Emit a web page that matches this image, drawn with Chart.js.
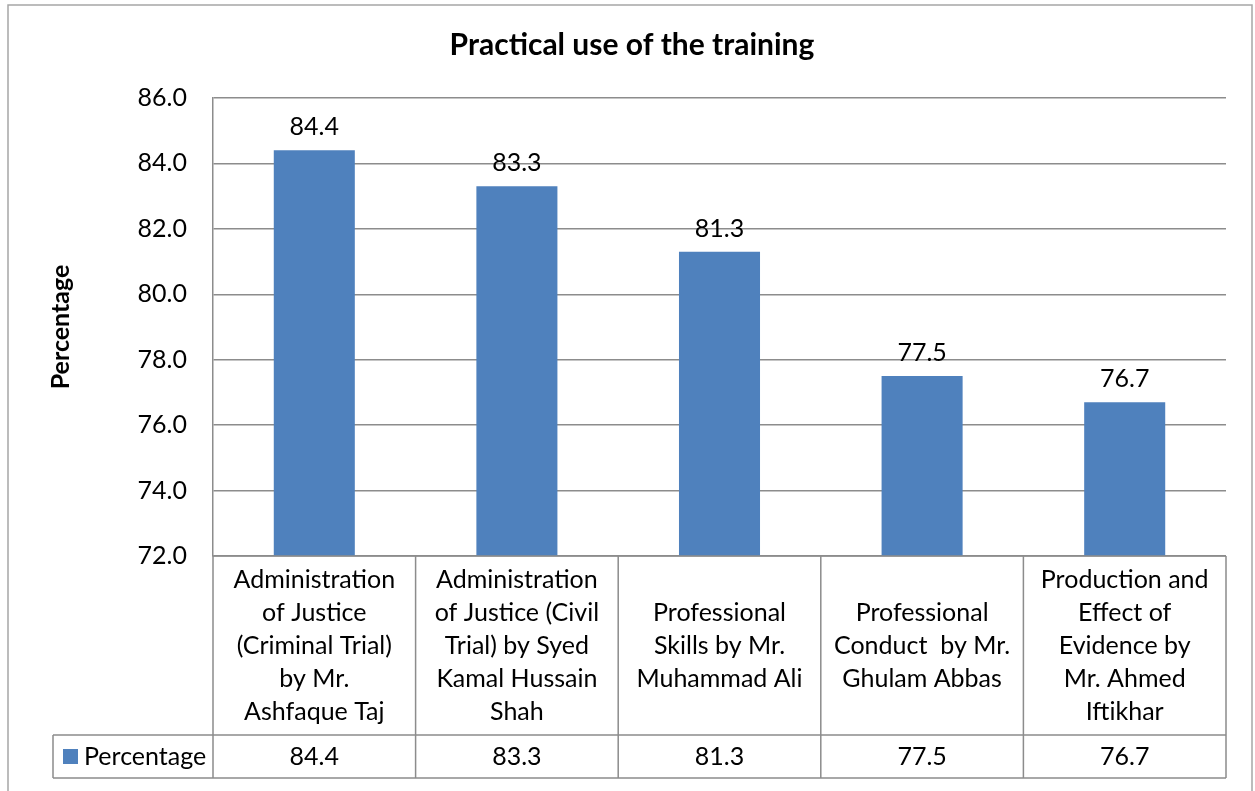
<!DOCTYPE html>
<html><head><meta charset="utf-8">
<script src="https://cdn.jsdelivr.net/npm/chart.js@4.4.1/dist/chart.umd.min.js"></script>
<style>html,body{margin:0;padding:0;background:#fff;} canvas{display:block}</style>
</head><body>
<canvas id="c" width="1255" height="791"></canvas>
<script>
const chartTitle = 'Practical use of the training';
const seriesName = 'Percentage';
const categories = [
  ['Administration', 'of Justice', '(Criminal Trial)', 'by Mr.', 'Ashfaque Taj'],
  ['Administration', 'of Justice (Civil', 'Trial) by Syed', 'Kamal Hussain', 'Shah'],
  ['Professional', 'Skills by Mr.', 'Muhammad Ali'],
  ['Professional', 'Conduct  by Mr.', 'Ghulam Abbas'],
  ['Production and', 'Effect of', 'Evidence by', 'Mr. Ahmed', 'Iftikhar']
];
const values = [84.4, 83.3, 81.3, 77.5, 76.7];
const yTicks = [72, 74, 76, 78, 80, 82, 84, 86];

const FONT = 'Lato, "Open Sans", sans-serif';
const GRID = '#8c8c8c';
const BAR = '#4f81bd';
const PAD_L = 38;

const frame = {
  id: 'frame',
  afterDraw(chart) {
    const ctx = chart.ctx;
    ctx.save();
    ctx.strokeStyle = '#a6a6a6';
    ctx.lineWidth = 1.5;
    ctx.beginPath();
    ctx.moveTo(8, 791); ctx.lineTo(8, 5); ctx.lineTo(1252, 5); ctx.lineTo(1252, 791);
    ctx.stroke();
    ctx.restore();
  }
};

const valueLabels = {
  id: 'valueLabels',
  afterDatasetsDraw(chart) {
    const ctx = chart.ctx;
    const meta = chart.getDatasetMeta(0);
    ctx.save();
    ctx.font = '25px ' + FONT;
    ctx.fillStyle = '#000';
    ctx.textAlign = 'center';
    ctx.textBaseline = 'middle';
    meta.data.forEach((bar, i) => {
      ctx.fillText(values[i].toFixed(1), bar.x, bar.y - 23);
    });
    ctx.restore();
  }
};

const dataTable = {
  id: 'dataTable',
  afterDraw(chart) {
    const ctx = chart.ctx, ca = chart.chartArea, xs = chart.scales.x;
    const n = categories.length;
    const cw = (ca.right - ca.left) / n;
    const top = ca.bottom, mid = top + 179, bot = mid + 43, legL = 53;
    ctx.save();
    ctx.strokeStyle = GRID;
    ctx.lineWidth = 1.5;
    ctx.beginPath();
    ctx.moveTo(ca.left, top); ctx.lineTo(ca.right, top);
    ctx.moveTo(legL, mid); ctx.lineTo(ca.right, mid);
    ctx.moveTo(legL, bot); ctx.lineTo(ca.right, bot);
    ctx.moveTo(legL, mid); ctx.lineTo(legL, bot);
    for (let i = 0; i < n; i++) {
      const cx = xs.getPixelForValue(i);
      const l = cx - cw / 2, r = cx + cw / 2;
      if (i === 0) { ctx.moveTo(l, top); ctx.lineTo(l, bot); }
      ctx.moveTo(r, top); ctx.lineTo(r, bot);
    }
    ctx.stroke();

    ctx.fillStyle = '#000';
    ctx.font = '25px ' + FONT;
    ctx.textAlign = 'center';
    ctx.textBaseline = 'middle';
    const lh = 33;
    const cy = (top + mid) / 2;
    categories.forEach((lines, i) => {
      const cx = xs.getPixelForValue(i);
      const y0 = cy - (lines.length - 1) * lh / 2;
      lines.forEach((t, k) => ctx.fillText(t, cx, y0 + k * lh));
      ctx.fillText(values[i].toFixed(1), cx, (mid + bot) / 2);
    });
    // legend key
    ctx.fillStyle = BAR;
    ctx.fillRect(63, (mid + bot) / 2 - 7.5, 15, 15);
    ctx.fillStyle = '#000';
    ctx.textAlign = 'left';
    ctx.fillText(seriesName, 84, (mid + bot) / 2);
    ctx.restore();
  }
};

new Chart(document.getElementById('c'), {
  type: 'bar',
  data: {
    labels: categories,
    datasets: [{
      label: seriesName,
      data: values,
      backgroundColor: BAR,
      borderWidth: 0,
      barPercentage: 0.4,
      categoryPercentage: 1.0
    }]
  },
  options: {
    responsive: false,
    animation: false,
    layout: { padding: { left: PAD_L, right: 29, top: 0, bottom: 235 } },
    plugins: {
      legend: { display: false },
      tooltip: { enabled: false },
      title: {
        display: true,
        text: chartTitle,
        color: '#000',
        font: { family: FONT, size: 30, weight: 'bold', lineHeight: 1.2 },
        padding: { top: 27, bottom: 35 }
      }
    },
    scales: {
      x: { display: false },
      y: {
        min: yTicks[0],
        max: yTicks[yTicks.length - 1],
        afterBuildTicks(scale) { scale.ticks = yTicks.map(v => ({ value: v })); },
        afterFit(scale) { scale.width = 213 - PAD_L; },
        ticks: {
          color: '#000',
          padding: 26,
          font: { family: FONT, size: 25 },
          callback: v => Number(v).toFixed(1)
        },
        grid: { color: GRID, lineWidth: 1.5, drawTicks: false },
        border: { display: true, color: GRID, width: 1.5 },
        title: {
          display: true,
          text: seriesName,
          color: '#000',
          font: { family: FONT, size: 25, weight: 'bold' },
          padding: { top: 8, bottom: 0 }
        }
      }
    }
  },
  plugins: [frame, valueLabels, dataTable]
});
</script>
</body></html>
